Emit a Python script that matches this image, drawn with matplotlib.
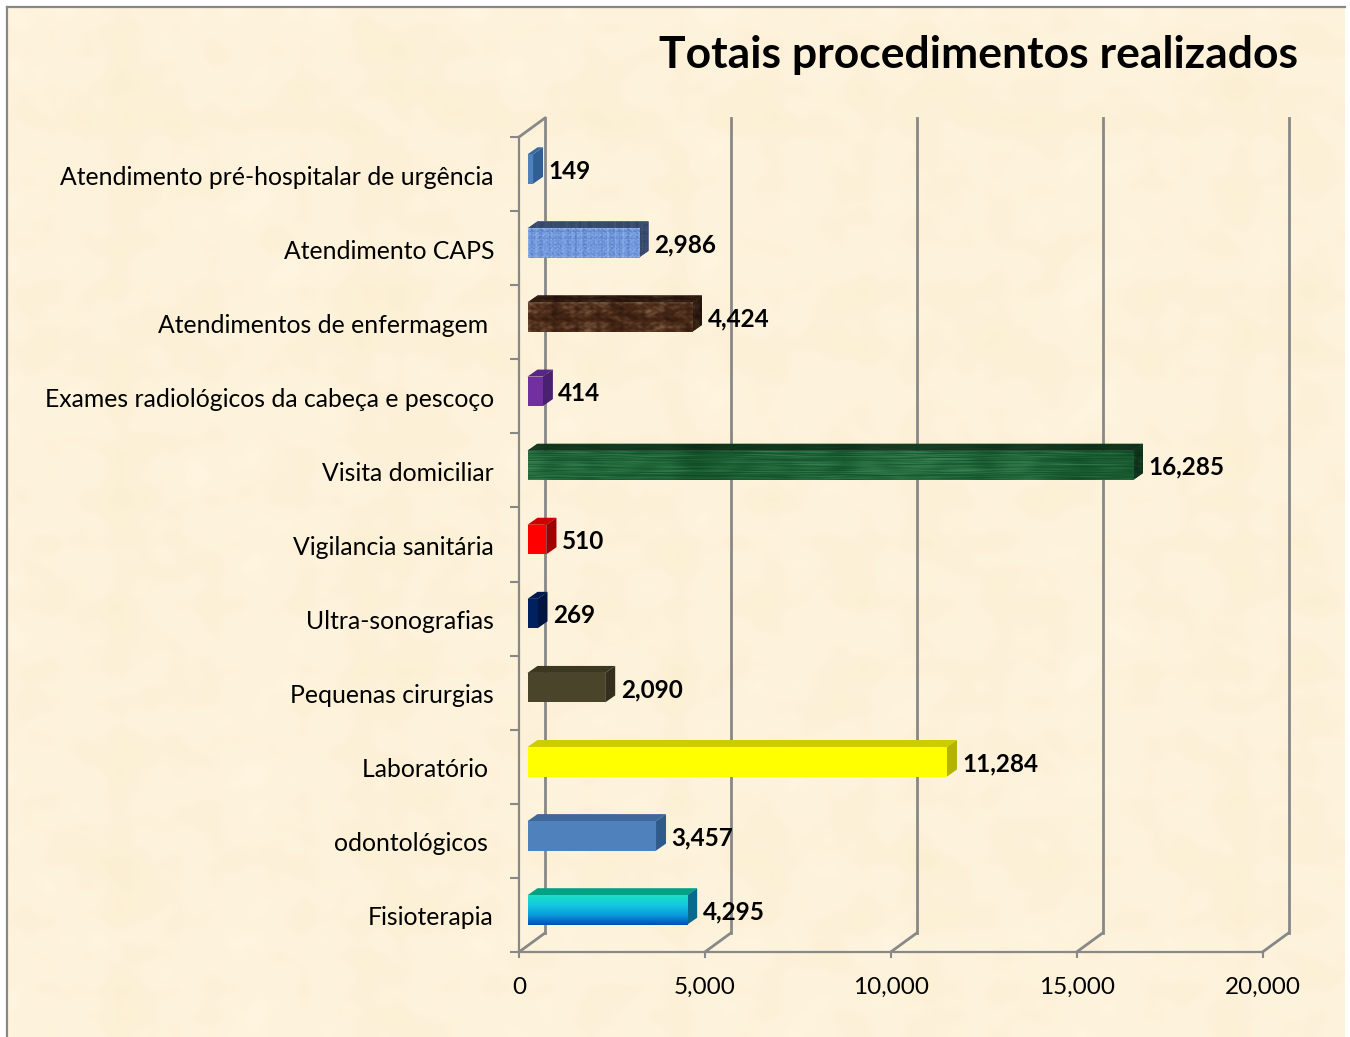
import numpy as np
import matplotlib
matplotlib.use('Agg')
import matplotlib.pyplot as plt
from matplotlib.lines import Line2D
from matplotlib.patches import Polygon
from matplotlib.colors import LinearSegmentedColormap as LSC

# bottom to top, as the axis runs
categories = ['Fisioterapia', 'odontológicos ', 'Laboratório ', 'Pequenas cirurgias',
              'Ultra-sonografias', 'Vigilancia sanitária', 'Visita domiciliar',
              'Exames radiológicos da cabeça e pescoço', 'Atendimentos de enfermagem ',
              'Atendimento CAPS', 'Atendimento pré-hospitalar de urgência']
values = [4295, 3457, 11284, 2090, 269, 510, 16285, 414, 4424, 2986, 149]
x_ticks = [0, 5000, 10000, 15000, 20000]
x_tick_labels = ['0', '5,000', '10,000', '15,000', '20,000']
title = 'Totais procedimentos realizados'

# front, top, side
faces = [('#12C6E0', '#00A184', '#0A6A8E'), ('#4F81BD', '#3F6797', '#2F5A8C'),
         ('#FFFF00', '#CCCC00', '#B3B300'), ('#4A452A', '#3B3721', '#332F1C'),
         ('#002060', '#001A50', '#001540'), ('#FF0000', '#CC0000', '#A00000'),
         ('#1B5E32', '#134825', '#0C3318'), ('#7030A0', '#592688', '#4A2070'),
         ('#4A2A18', '#2F1A0E', '#2A160C'), ('#6F96DC', '#345A9A', '#2B4C85'),
         ('#4F81BD', '#3A6AA0', '#2F5F94')]

W, H = 1350, 1037
GRAY = '#888888'
FONT = 'Lato'


def blotch(h, w, fx, fy):
    # mottled pattern out of sines, no randomness
    yy, xx = np.mgrid[0:1:h * 1j, 0:1:w * 1j]
    z = np.zeros((h, w))
    for k, (a, b, c) in enumerate([(1, 1, 0.3), (1.7, 0.6, 1.9), (0.6, 1.9, 4.1), (2.9, 2.3, 2.2), (4.3, 3.7, 5.3)]):
        z += np.sin(a * fx * xx + 2 * np.sin(b * fy * yy + c)) * np.sin(b * fy * yy + 1.5 * np.sin(a * fx * xx + c))
    return (z - z.min()) / (z.max() - z.min())


fig = plt.figure(figsize=(W / 100, H / 100), dpi=100, facecolor='white')

# parchment background
bg = fig.add_axes([7 / W, 0, 1338 / W, 1030 / H])
paper = LSC.from_list('paper', ['#FBEDCF', '#FDF2D9', '#FFF6E3'])
bg.imshow(blotch(120, 160, 31, 27), cmap=paper, aspect='auto', interpolation='bicubic')
bg.axis('off')
fig.add_artist(Line2D([7 / W, 7 / W], [0, 1030 / H], color=GRAY, lw=1.6))
fig.add_artist(Line2D([7 / W, 1345 / W], [1030 / H, 1030 / H], color=GRAY, lw=1.6))

ax = fig.add_axes([519 / W, (H - 952) / H, 743.5 / W, 815 / H])
ax.patch.set_alpha(0)
ax.set_xlim(0, 20000)
ax.set_ylim(0, 11)
PX = 20000 / 743.5
PY = 11 / 815

# back wall and floor
for i, v in enumerate(x_ticks):
    ax.plot([v, v + 26 * PX], [0, 19 * PY], color=GRAY, lw=2, clip_on=False, zorder=1)
    ax.plot([v + 26 * PX] * 2, [19 * PY, 11 + 19 * PY], color=GRAY, lw=2, clip_on=False, zorder=1)
ax.plot([0, 26 * PX], [11, 11 + 19 * PY], color=GRAY, lw=2, clip_on=False, zorder=1)

ys = np.arange(len(values)) + 0.5 + 5 * PY
left = 8.5 * PX
dx = 10 * PX
dy = 7 * PY
hgt = 29.5 * PY
bars = ax.barh(ys, values, left=left, height=hgt, color=[f[0] for f in faces], zorder=4)

# textures: front colours, then how much top and side are darkened
textures = {
    6: (blotch(30, 300, 9, 26), ['#0E4622', '#1B5E32', '#3A8555'], 0.55),
    8: (blotch(40, 160, 16, 5), ['#2A160B', '#4A2A18', '#86664A'], 0.6),
    9: (blotch(40, 140, 80, 26), ['#3A62AE', '#6F96DC', '#C0D4F8'], 0.5),
}


def paint(tex, cols, box, clip, z):
    im = ax.imshow(tex, cmap=LSC.from_list('t', cols), aspect='auto', zorder=z,
                   extent=box, interpolation='bilinear')
    im.set_clip_path(clip)


for i, (v, y) in enumerate(zip(values, ys)):
    x1 = left + v
    y0, y1 = y - hgt / 2, y + hgt / 2
    top = Polygon([(left, y1), (x1, y1), (x1 + dx, y1 + dy), (left + dx, y1 + dy)],
                  facecolor=faces[i][1], edgecolor='none', zorder=3)
    side = Polygon([(x1, y0), (x1, y1), (x1 + dx, y1 + dy), (x1 + dx, y0 + dy)],
                   facecolor=faces[i][2], edgecolor='none', zorder=3)
    ax.add_patch(top)
    ax.add_patch(side)
    if i in textures:
        tex, cols, dark = textures[i]
        dcols = [tuple(dark * c for c in matplotlib.colors.to_rgb(k)) for k in cols]
        paint(tex, cols, [left, x1, y0, y1], bars[i], 4.5)
        paint(tex, dcols, [left, x1 + dx, y1, y1 + dy], top, 3.5)
        paint(tex[:, :30], dcols, [x1, x1 + dx, y0, y1 + dy], side, 3.5)
    # baseline, so the comma does not move the digits
    ax.text(x1 + dx + 5.5 * PX, i + 0.5 - 4.5 * PY, f'{v:,}', fontfamily=FONT, fontweight='bold',
            fontsize=17.5, va='baseline', ha='left', color='black', zorder=5)

# gradient on the first bar
grad = np.linspace(1, 0, 40).reshape(-1, 1)
paint(grad, ['#0050BE', '#0B9BDC', '#14C8E0', '#1ADFC8'],
      [left, left + values[0], ys[0] - hgt / 2, ys[0] + hgt / 2], bars[0], 4.5)
ax.set_xlim(0, 20000)
ax.set_ylim(0, 11)

for s in ['top', 'right']:
    ax.spines[s].set_visible(False)
for s in ['left', 'bottom']:
    ax.spines[s].set_color(GRAY)
    ax.spines[s].set_linewidth(1.6)

ax.set_xticks(x_ticks)
ax.set_xticklabels(x_tick_labels, fontfamily=FONT, fontsize=17.5)
ax.tick_params(axis='x', length=4.5, width=1.5, color=GRAY, pad=13.5)
ax.set_yticks(np.arange(len(values) + 1))
ax.set_yticklabels([])
ax.tick_params(axis='y', which='major', length=6.5, width=1.5, color=GRAY)
ax.set_yticks(np.arange(len(values)) + 0.5 - PY, minor=True)
ax.set_yticklabels(categories, minor=True, fontfamily=FONT, fontsize=17.8)
ax.tick_params(axis='y', which='minor', length=0, pad=18)

fig.text(1298 / W, 1 - 55 / H, title, fontfamily=FONT, fontweight='bold', fontsize=32,
         ha='right', va='center', color='black')

fig.savefig('out.png', dpi=100)
